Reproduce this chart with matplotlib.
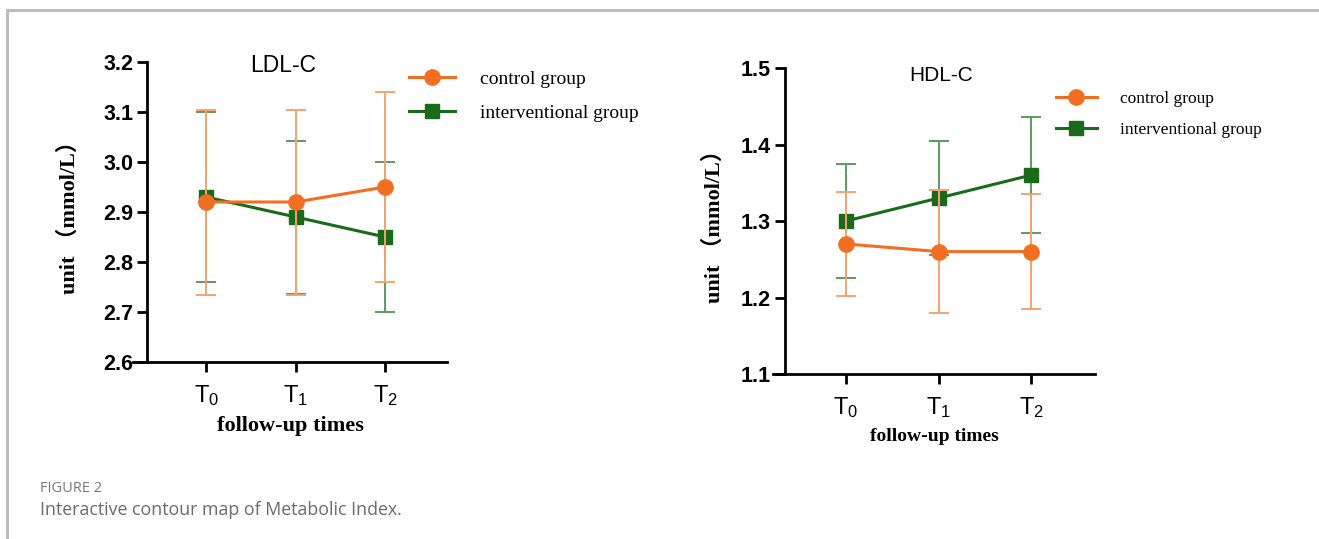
import matplotlib
matplotlib.use("Agg")
import matplotlib.pyplot as plt
from matplotlib.lines import Line2D
import numpy as np

# follow-up times
times = ["$\\mathregular{T_0}$", "$\\mathregular{T_1}$", "$\\mathregular{T_2}$"]

# LDL-C (mmol/L)
ldl_control = [2.92, 2.92, 2.95]
ldl_control_err = [0.185, 0.185, 0.19]
ldl_interv = [2.93, 2.89, 2.85]
ldl_interv_err = [0.17, 0.153, 0.15]

# HDL-C (mmol/L)
hdl_control = [1.27, 1.26, 1.26]
hdl_control_err = [0.068, 0.08, 0.075]
hdl_interv = [1.30, 1.33, 1.36]
hdl_interv_err = [0.075, 0.075, 0.076]

ORANGE = "#F26F21"
ORANGE_ERR = "#F4A370"
GREEN = "#1B6A1B"
GREEN_ERR = "#5F9A5F"

serif = ["Liberation Serif", "Noto Sans CJK SC"]
sans = "Liberation Sans"

W, H = 1319, 539
fig = plt.figure(figsize=(W / 100, H / 100), dpi=100)

# figure frame like the journal page
fig.add_artist(Line2D([7 / W, 1], [1 - 10 / H, 1 - 10 / H], color="#bdbdbd", lw=2.2))
fig.add_artist(Line2D([7 / W, 7 / W], [0, 1 - 10 / H], color="#bdbdbd", lw=2.2))


def panel(x0, yaxis_x, x1, ytop, ybot, ctrl, ctrl_err, intv, intv_err, ylim, title,
          title_xy, title_size, leg_anchor, leg_size, xl_size, ylab_px):
    ax = fig.add_axes([x0 / W, 1 - ybot / H, (x1 - x0) / W, (ybot - ytop) / H])
    x = np.arange(len(times))
    ax.errorbar(x, intv, yerr=intv_err, color=GREEN, marker="s", ms=10, lw=2.2,
                ecolor=GREEN_ERR, elinewidth=1.4, capsize=7, capthick=1.4, zorder=3)
    ax.errorbar(x, ctrl, yerr=ctrl_err, color=ORANGE, marker="o", ms=11, lw=2.2,
                ecolor=ORANGE_ERR, elinewidth=1.4, capsize=7, capthick=1.4, zorder=4)
    # y axis sits a little right of where the x axis begins
    frac = (yaxis_x - x0) / (x1 - x0)
    lo = (-0.66 - 2.69 * frac) / (1 - frac)
    ax.set_xlim(lo, 2.69)
    ax.spines["left"].set_position(("axes", frac))
    ax.set_ylim(*ylim)
    ax.set_yticks(np.round(np.arange(ylim[0], ylim[1] + 0.001, 0.1), 1))
    ax.set_xticks(x)
    ax.set_xticklabels(times, fontsize=17, family=sans)
    for lab in ax.get_yticklabels():
        lab.set_fontsize(15.5)
        lab.set_fontweight("bold")
        lab.set_family(sans)
    for s in ["top", "right"]:
        ax.spines[s].set_visible(False)
    for s in ["left", "bottom"]:
        ax.spines[s].set_linewidth(2)
    ax.tick_params(width=2, length=7, pad=3)
    ax.tick_params(axis="x", pad=8)
    ax.set_xlabel("follow-up times", family=serif, fontweight="bold", fontsize=xl_size, labelpad=6)
    ax.set_ylabel("unit （mmol/L）", family=serif, fontweight="bold", fontsize=16)
    ax.yaxis.set_label_coords((ylab_px - x0) / (x1 - x0), 0.5)
    ax.text(title_xy[0], title_xy[1], title, transform=ax.transAxes, ha="center",
            va="center", fontsize=title_size, family=sans)
    handles = [Line2D([], [], color=ORANGE, marker="o", ms=11, lw=2.2),
               Line2D([], [], color=GREEN, marker="s", ms=10, lw=2.2)]
    ax.legend(handles, ["control group", "interventional group"], loc="upper left",
              bbox_to_anchor=leg_anchor, bbox_transform=fig.transFigure, frameon=False,
              prop={"family": serif, "size": leg_size}, handlelength=2.4,
              handletextpad=1.3, labelspacing=0.85)
    return ax


panel(133, 147, 447, 62, 362,
      ldl_control, ldl_control_err, ldl_interv, ldl_interv_err,
      (2.6, 3.2), "LDL-C", (0.477, 0.99), 16.5,
      (391 / W, 1 - 53 / H), 14, 16, 80)

panel(773, 785, 1095, 68, 374,
      hdl_control, hdl_control_err, hdl_interv, hdl_interv_err,
      (1.1, 1.5), "HDL-C", (0.522, 0.977), 15,
      (1040 / W, 1 - 75 / H), 12.5, 14, 725)

fig.text(40 / W, 1 - 488 / H, "FIGURE 2", fontsize=10.5, color="#7a7a7a",
         family="Open Sans", va="center")
fig.text(40 / W, 1 - 510 / H, "Interactive contour map of Metabolic Index.",
         fontsize=12.8, color="#6a6a6a", family="Open Sans", va="center")

fig.savefig("out.png", dpi=100)
